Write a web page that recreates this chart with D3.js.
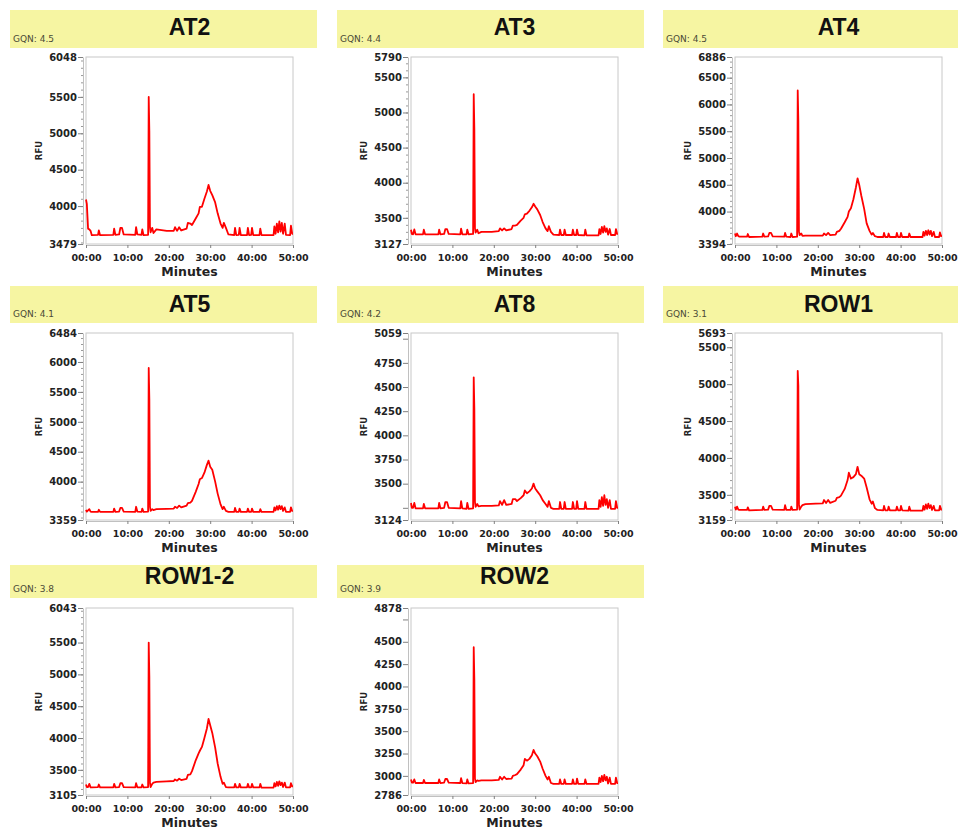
<!DOCTYPE html>
<html><head><meta charset="utf-8">
<script src="https://cdn.jsdelivr.net/npm/d3@7"></script>
<style>body{margin:0;background:#fff}svg{display:block}</style>
</head><body>
<svg id="chart" width="958" height="831"></svg>
<script>
// ---- data ----
const minutes = [0,0.2,0.5,0.8,1.1,1.4,2.9,3.1,3.4,6.6,6.8,7.1,8.0,8.3,8.7,9.1,11.9,12.1,12.4,13.4,13.6,13.9,15.0,15.15,15.3,15.45,15.6,16.0,16.3,17.0,19.5,21.2,21.5,22.0,22.5,23.0,24.3,24.6,25.2,25.6,26.5,27.2,27.5,28.0,28.6,29.2,29.6,30.0,30.5,31.2,31.8,32.5,33.0,33.3,33.8,34.4,35.8,36.0,36.3,36.9,37.1,37.4,38.9,39.1,39.4,39.9,40.1,40.4,41.9,42.1,42.4,45.3,45.5,45.8,46.1,46.4,46.7,47.0,47.3,47.6,48.0,48.3,49.3,49.5,49.8,50.0];

const samples = ["AT2","AT3","AT4","AT5","AT8","ROW1","ROW1-2","ROW2"];
const gqn = ["4.5","4.4","4.5","4.1","4.2","3.1","3.8","3.9"];
const yMin = [3479,3127,3394,3359,3124,3159,3105,2786];
const yMax = [6048,5790,6886,6484,5059,5693,6043,4878];
const minorStep = [100,100,100,100,0,100,100,0];
const xTicks = [0,10,20,30,40,50];

const ticksAT2 = [3479,4000,4500,5000,5500,6048];
const ticksAT3 = [3127,3500,4000,4500,5000,5500,5790];
const ticksAT4 = [3394,4000,4500,5000,5500,6000,6500,6886];
const ticksAT5 = [3359,4000,4500,5000,5500,6000,6484];
const ticksAT8 = [3124,3250,3500,3750,4000,4250,4500,4750,5000,5059];
const ticksROW1 = [3159,3500,4000,4500,5000,5500,5693];
const ticksROW12 = [3105,3500,4000,4500,5000,5500,6043];
const ticksROW2 = [2786,3000,3250,3500,3750,4000,4250,4500,4750,4878];

const rfuAT2 = [4090,4030,3690,3680,3660,3600,3605,3665,3600,3605,3690,3605,3610,3700,3700,3610,3605,3710,3610,3605,3680,3600,3605,5500,5030,3700,3640,3700,3630,3680,3660,3660,3710,3660,3710,3665,3690,3770,3760,3740,3830,3900,3990,3990,4100,4200,4290,4210,4150,4050,3900,3760,3700,3770,3700,3610,3600,3700,3600,3605,3700,3600,3600,3700,3600,3605,3700,3600,3600,3690,3600,3600,3720,3620,3760,3640,3790,3650,3770,3620,3760,3605,3600,3730,3620,3620];
const rfuAT3 = [3330,3270,3265,3335,3265,3265,3265,3330,3265,3265,3330,3265,3270,3340,3340,3270,3265,3345,3265,3265,3330,3265,3270,5260,4770,3350,3290,3330,3280,3300,3300,3310,3350,3320,3350,3320,3340,3390,3390,3400,3460,3500,3550,3560,3600,3650,3700,3660,3620,3540,3440,3350,3310,3380,3300,3260,3255,3330,3255,3255,3330,3255,3255,3330,3255,3255,3330,3255,3250,3330,3250,3250,3340,3270,3370,3290,3380,3300,3350,3260,3340,3255,3255,3340,3270,3270];
const rfuAT4 = [3590,3540,3590,3540,3530,3530,3530,3580,3525,3530,3590,3530,3535,3600,3600,3535,3530,3600,3530,3525,3590,3525,3530,6260,5700,3620,3560,3590,3545,3550,3550,3550,3590,3560,3600,3560,3570,3620,3640,3680,3800,3900,4000,4060,4230,4450,4620,4500,4300,4050,3780,3640,3570,3600,3540,3525,3525,3600,3525,3525,3590,3525,3525,3600,3525,3525,3600,3525,3525,3590,3525,3525,3620,3550,3640,3560,3650,3570,3640,3540,3620,3525,3525,3610,3540,3540];
const rfuAT5 = [3530,3500,3520,3540,3500,3495,3495,3530,3495,3495,3550,3495,3500,3560,3560,3500,3495,3580,3500,3495,3550,3495,3500,5900,5380,3580,3510,3540,3525,3540,3545,3550,3580,3560,3600,3570,3600,3640,3650,3680,3830,3960,4040,4060,4150,4280,4350,4250,4200,4000,3800,3620,3540,3580,3510,3495,3495,3560,3495,3495,3550,3495,3495,3550,3495,3495,3550,3495,3495,3540,3495,3495,3570,3520,3590,3530,3600,3540,3590,3510,3570,3495,3495,3570,3510,3510];
const rfuAT8 = [3300,3250,3250,3300,3245,3245,3245,3290,3245,3245,3300,3245,3250,3310,3310,3250,3245,3320,3245,3240,3300,3240,3245,4600,4280,3310,3260,3290,3265,3270,3270,3275,3320,3280,3330,3280,3290,3340,3340,3320,3350,3380,3430,3400,3420,3450,3500,3450,3420,3380,3330,3290,3260,3320,3250,3240,3240,3310,3240,3240,3310,3240,3240,3310,3240,3240,3320,3240,3240,3310,3240,3240,3330,3260,3360,3270,3380,3280,3340,3250,3330,3240,3240,3320,3250,3250];
const rfuROW1 = [3340,3300,3340,3300,3295,3295,3295,3330,3290,3295,3340,3295,3300,3350,3350,3300,3295,3360,3295,3295,3340,3295,3300,5180,4980,3360,3300,3340,3360,3375,3380,3385,3430,3390,3430,3390,3420,3460,3470,3490,3580,3700,3800,3720,3740,3780,3880,3780,3760,3720,3600,3440,3380,3410,3320,3295,3290,3350,3290,3290,3340,3290,3290,3340,3290,3290,3350,3290,3285,3340,3285,3285,3350,3300,3370,3310,3380,3320,3360,3295,3350,3290,3290,3350,3300,3300];
const rfuROW12 = [3270,3230,3230,3280,3225,3225,3230,3270,3225,3225,3280,3225,3230,3290,3290,3230,3225,3290,3225,3225,3270,3225,3230,5500,4970,3290,3230,3280,3300,3310,3320,3325,3350,3330,3360,3340,3360,3420,3430,3480,3650,3760,3800,3860,4000,4150,4300,4200,4080,3850,3600,3390,3280,3300,3230,3225,3225,3280,3225,3225,3280,3225,3225,3280,3225,3225,3280,3225,3225,3280,3220,3220,3290,3240,3310,3250,3320,3260,3300,3230,3300,3225,3225,3290,3240,3240];
const rfuROW2 = [2960,2925,2925,2960,2920,2920,2920,2955,2920,2920,2960,2920,2925,2965,2965,2925,2920,2975,2920,2915,2960,2915,2920,4440,4080,2970,2930,2950,2945,2950,2950,2955,2990,2960,2990,2965,2970,3000,3010,3020,3070,3120,3190,3170,3190,3230,3290,3250,3220,3160,3080,3000,2960,2990,2920,2910,2910,2960,2910,2910,2960,2910,2910,2960,2910,2910,2970,2910,2910,2960,2910,2910,2980,2930,3000,2940,3010,2950,2990,2915,2980,2910,2910,2980,2920,2920];

const series = [rfuAT2,rfuAT3,rfuAT4,rfuAT5,rfuAT8,rfuROW1,rfuROW12,rfuROW2];
const majorTicks = [ticksAT2,ticksAT3,ticksAT4,ticksAT5,ticksAT8,ticksROW1,ticksROW12,ticksROW2];

// ---- layout ----
const boxLeft = [10, 337, 663];
const plotLeft = [86, 411, 735];
const plotW = 207, plotH = 187;
const boxTop = [10, 286, 565];
const boxH = [38, 37, 33];
const plotTop = [57, 333, 608];
const titleBase = [35, 312, 584];

const svg = d3.select("#chart");
const fmtMin = d => d3.format("02d")(d) + ":00";

samples.forEach((name, i) => {
  const r = Math.floor(i / 3), c = i % 3;
  const g = svg.append("g");
  const x0 = plotLeft[c], y0 = plotTop[r];

  // header band
  g.append("rect").attr("x", boxLeft[c]).attr("y", boxTop[r])
    .attr("width", 307).attr("height", boxH[r]).attr("fill", "#f6f5a2");
  g.append("text").attr("x", x0 + plotW / 2).attr("y", titleBase[r])
    .attr("text-anchor", "middle")
    .style("font", "bold 23px 'Liberation Sans', Arial, sans-serif")
    .attr("fill", "#111").text(name);
  g.append("text").attr("x", boxLeft[c] + 3).attr("y", boxTop[r] + boxH[r] - 6)
    .style("font", "9px 'DejaVu Sans', sans-serif")
    .attr("fill", "#4a4a36").text("GQN: " + gqn[i]);

  const x = d3.scaleLinear().domain([0, 50]).range([x0, x0 + plotW]);
  const y = d3.scaleLinear().domain([yMin[i], yMax[i]]).range([y0 + plotH, y0]);

  // plot frame
  g.append("rect").attr("x", x0).attr("y", y0).attr("width", plotW).attr("height", plotH)
    .attr("fill", "#fff").attr("stroke", "#c8c8c8").attr("stroke-width", 1);

  // minor ticks
  if (minorStep[i] > 0) {
    const minors = d3.range(Math.ceil(yMin[i] / minorStep[i]) * minorStep[i], yMax[i], minorStep[i]);
    const ma = g.append("g").attr("transform", `translate(${x0 - 3},0)`)
      .call(d3.axisLeft(y).tickValues(minors).tickSize(2).tickFormat(""));
    ma.select(".domain").remove();
    ma.selectAll("line").attr("stroke", "#999");
  }
  // major ticks
  const ya = g.append("g").attr("transform", `translate(${x0 - 3},0)`)
    .call(d3.axisLeft(y).tickValues(majorTicks[i]).tickSizeInner(5).tickSizeOuter(0).tickPadding(1).tickFormat(d3.format("d")));
  ya.select(".domain").attr("stroke", "#c0c0c0");
  ya.selectAll("line").attr("stroke", "#808080");
  ya.selectAll("text")
    .style("font", "bold 10px 'DejaVu Sans', sans-serif").attr("fill", "#222")
    .style("display", d => {
      if (d === yMin[i] || d === yMax[i]) return null;
      const py = y(d);
      return (Math.abs(py - y(yMin[i])) < 13 || Math.abs(py - y(yMax[i])) < 13) ? "none" : null;
    });

  // x axis
  const xa = g.append("g").attr("transform", `translate(0,${y0 + plotH + 1})`)
    .call(d3.axisBottom(x).tickValues(xTicks).tickSize(3).tickPadding(6).tickFormat(fmtMin));
  xa.select(".domain").attr("stroke", "#c0c0c0");
  xa.selectAll("line").attr("stroke", "#808080");
  xa.selectAll("text").style("font", "bold 9.5px 'DejaVu Sans', sans-serif").attr("fill", "#222");

  // axis titles
  g.append("text").attr("transform", `translate(${x0 - 44},${y0 + plotH / 2}) rotate(-90)`)
    .attr("text-anchor", "middle")
    .style("font", "bold 8.5px 'DejaVu Sans', sans-serif").attr("fill", "#222").text("RFU");
  g.append("text").attr("x", x0 + plotW / 2).attr("y", y0 + plotH + 32)
    .attr("text-anchor", "middle")
    .style("font", "bold 12.5px 'DejaVu Sans', sans-serif").attr("fill", "#222").text("Minutes");

  // trace
  const line = d3.line().x((d, j) => x(minutes[j])).y(d => y(d));
  g.append("path").datum(series[i]).attr("d", line)
    .attr("fill", "none").attr("stroke", "#ff0000").attr("stroke-width", 1.8)
    .attr("stroke-linejoin", "round");
});
</script>
</body></html>
